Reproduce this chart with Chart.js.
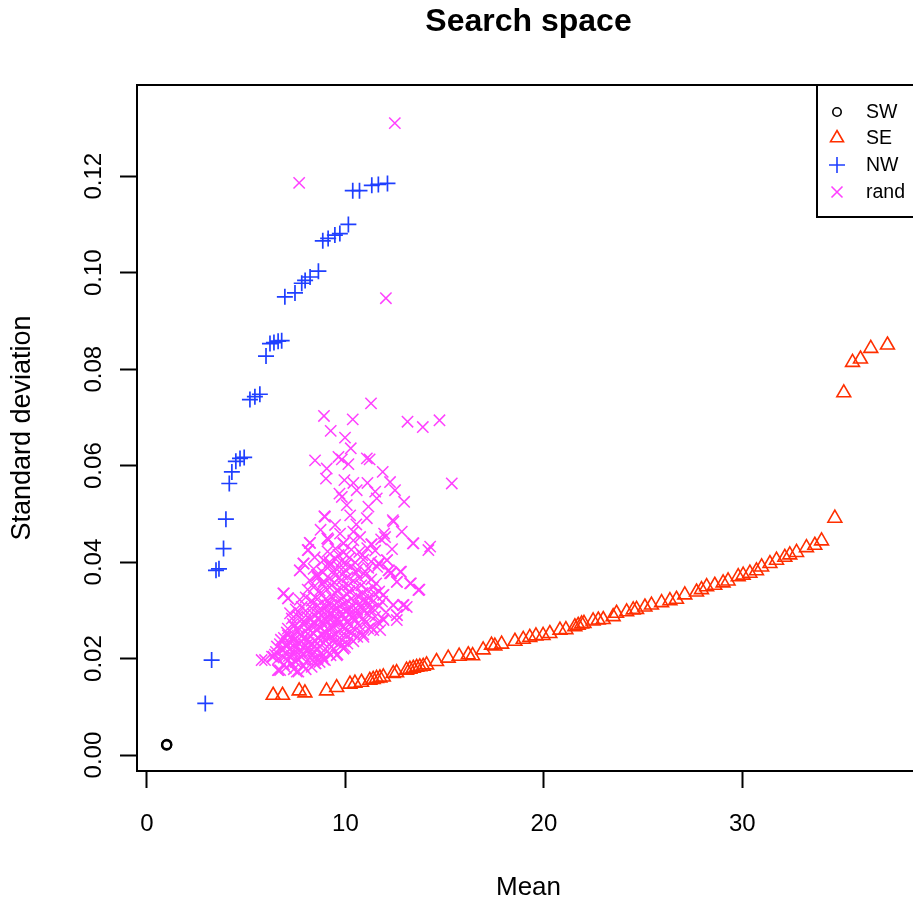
<!DOCTYPE html>
<html><head><meta charset="utf-8">
<script src="https://cdn.jsdelivr.net/npm/chart.js@4/dist/chart.umd.min.js"></script>
<style>
html,body{margin:0;padding:0;overflow:hidden;background:#fff;width:913px;height:901px}
#wrap{position:absolute;left:0;top:0;width:940px;height:901px}
</style>
</head><body><div id="wrap"><canvas id="c"></canvas></div>
<script>
const chartTitle = 'Search space';
const xTitle = 'Mean';
const yTitle = 'Standard deviation';
const seriesNames = ['SW', 'SE', 'NW', 'rand'];
const xTicks = [0, 10, 20, 30];
const yTicks = [0, 0.02, 0.04, 0.06, 0.08, 0.10, 0.12];

const swPoints = [[0.99,0.0021],[1.00,0.0022]];

const sePoints = [
[6.36,0.0124],[6.83,0.0124],[7.67,0.0133],[7.96,0.0129],[9.05,0.0133],[9.56,0.0140],[10.23,0.0147],[10.48,0.0149],
[10.81,0.0151],[11.23,0.0155],[11.40,0.0157],[11.57,0.0159],[11.74,0.0160],[11.91,0.0162],[12.41,0.0169],[12.58,0.0171],
[13.08,0.0176],[13.25,0.0178],[13.42,0.0180],[13.59,0.0182],[13.75,0.0183],[13.92,0.0184],[14.09,0.0187],[14.59,0.0194],
[15.18,0.0201],[15.73,0.0205],[16.19,0.0208],[16.41,0.0206],[16.94,0.0218],[17.36,0.0228],[17.53,0.0226],[17.87,0.0230],
[18.54,0.0236],[18.96,0.0240],[19.29,0.0244],[19.60,0.0247],[19.96,0.0248],[20.30,0.0252],[20.81,0.0259],[21.11,0.0260],
[21.56,0.0266],[21.73,0.0269],[21.90,0.0272],[22.02,0.0273],[22.48,0.0278],[22.74,0.0280],[22.99,0.0281],[23.49,0.0287],
[23.66,0.0294],[24.17,0.0297],[24.50,0.0301],[24.67,0.0302],[25.09,0.0307],[25.42,0.0311],[25.93,0.0316],[26.35,0.0320],
[26.68,0.0323],[27.10,0.0332],[27.69,0.0338],[27.94,0.0343],[28.20,0.0349],[28.61,0.0352],[29.03,0.0357],[29.28,0.0361],
[29.79,0.0370],[30.04,0.0373],[30.38,0.0377],[30.71,0.0382],[30.97,0.0390],[31.39,0.0397],[31.72,0.0404],[32.14,0.0410],
[32.39,0.0415],[32.73,0.0420],[33.23,0.0430],[33.65,0.0435],[33.99,0.0444],[34.66,0.0491],[35.11,0.0751],[35.55,0.0814],
[35.95,0.0821],[36.47,0.0843],[37.31,0.0850]
];

const nwPoints = [
[2.94,0.0107],[3.26,0.0197],[3.48,0.0383],[3.63,0.0386],[3.86,0.0428],[3.98,0.0489],[4.15,0.0563],[4.28,0.0587],
[4.48,0.0609],[4.69,0.0615],[4.90,0.0617],[5.19,0.0737],[5.44,0.0743],[5.69,0.0748],[6.00,0.0827],[6.20,0.0853],
[6.40,0.0855],[6.61,0.0858],[6.79,0.0859],[6.95,0.0950],[7.46,0.0958],[7.80,0.0978],[7.97,0.0984],[8.22,0.0991],
[8.64,0.1003],[8.86,0.1066],[9.13,0.1071],[9.47,0.1078],[9.72,0.1081],[10.15,0.1100],[10.37,0.1170],[10.71,0.1170],
[11.33,0.1181],[11.66,0.1183],[12.12,0.1185]
];

const randPoints = [
[12.49,0.1310],[7.67,0.1186],[12.04,0.0947],
[11.29,0.0729],[8.92,0.0703],[10.37,0.0696],[13.13,0.0691],[13.90,0.0680],[14.74,0.0694],[9.26,0.0672],[9.98,0.0658],
[10.27,0.0636],[8.47,0.0611],[9.65,0.0618],[9.82,0.0613],[10.15,0.0603],[11.08,0.0615],[11.22,0.0613],[9.06,0.0594],
[9.02,0.0573],[11.88,0.0587],[9.95,0.0570],[10.40,0.0564],[11.11,0.0564],[12.25,0.0566],[15.36,0.0563],[9.70,0.0542],
[9.82,0.0535],[10.57,0.0549],[11.50,0.0546],[11.58,0.0532],[12.50,0.0549],[12.96,0.0525],[10.07,0.0518],[10.24,0.0497],
[11.16,0.0515],[8.97,0.0494],[9.48,0.0477],[11.08,0.0491],[12.39,0.0487],[12.84,0.0463],[12.00,0.0452],[9.73,0.0459],
[10.40,0.0463],[10.74,0.0452],[8.22,0.0440],[9.09,0.0449],[13.43,0.0439],[14.27,0.0432],[9.90,0.0439],[11.33,0.0437],
[8.94,0.0495],[12.42,0.0484],[12.09,0.0404],[11.66,0.0397],[8.89,0.0404],[7.88,0.0397],[7.71,0.0383],[8.56,0.0373],
[8.13,0.0425],[9.14,0.0446],[14.18,0.0425],[6.87,0.0335],[7.12,0.0325],[5.95,0.0197],[6.37,0.0204],[7.55,0.0173],
[6.62,0.0176],[6.87,0.0218],[12.42,0.0311],[12.59,0.0290],[12.93,0.0311],[13.26,0.0356],[13.73,0.0343],[12.76,0.0380],
[12.17,0.0383],[9.98,0.0224],[9.56,0.0207],[8.97,0.0197],[8.47,0.0190],[11.92,0.0332],[11.92,0.0280],[11.41,0.0259],
[10.91,0.0245],[6.71,0.0176],[7.63,0.0173],[9.90,0.0221],[11.75,0.0259],[12.59,0.0280],[13.09,0.0307],[13.68,0.0342],
[12.59,0.0359],[12.25,0.0377],[7.21,0.0294],[7.04,0.0231],[5.78,0.0197],
[6.6,0.0176],[7.0,0.0181],[7.4,0.0178],[7.9,0.0185],[8.3,0.0183],[8.5,0.0190],[6.9,0.0188],[7.3,0.0190],[8.0,0.0178],
[6.3,0.0204],[6.6,0.0199],[6.9,0.0202],[7.1,0.0196],[7.3,0.0206],[7.6,0.0200],[7.8,0.0203],[8.1,0.0197],[8.3,0.0206],
[8.6,0.0201],[8.9,0.0198],[7.5,0.0193],[8.7,0.0193],
[6.5,0.0214],[6.8,0.0218],[7.0,0.0211],[7.2,0.0220],[7.4,0.0213],[7.7,0.0217],[7.9,0.0210],[8.1,0.0221],[8.4,0.0215],
[8.6,0.0219],[8.8,0.0212],[9.1,0.0216],[9.4,0.0220],[9.6,0.0209],[9.9,0.0221],[7.5,0.0222],[8.2,0.0213],
[6.7,0.0230],[7.0,0.0226],[7.2,0.0233],[7.5,0.0228],[7.8,0.0235],[8.0,0.0227],[8.3,0.0231],[8.5,0.0236],[8.7,0.0225],
[8.9,0.0232],[9.2,0.0229],[9.5,0.0234],[9.8,0.0227],[10.1,0.0231],[10.4,0.0236],[7.4,0.0238],[8.1,0.0239],[9.0,0.0238],
[6.9,0.0243],[7.1,0.0248],[7.4,0.0245],[7.7,0.0250],[7.9,0.0242],[8.2,0.0247],[8.4,0.0252],[8.6,0.0244],[8.8,0.0249],
[9.0,0.0254],[9.3,0.0246],[9.5,0.0251],[9.7,0.0243],[10.0,0.0248],[10.3,0.0253],[10.6,0.0245],[10.9,0.0250],[8.0,0.0256],
[9.2,0.0258],[10.1,0.0259],[7.6,0.0257],
[7.1,0.0262],[7.4,0.0267],[7.6,0.0264],[7.9,0.0270],[8.1,0.0263],[8.3,0.0268],[8.5,0.0273],[8.7,0.0265],[8.9,0.0270],
[9.1,0.0275],[9.3,0.0264],[9.5,0.0269],[9.7,0.0274],[9.9,0.0266],[10.2,0.0271],[10.4,0.0263],[10.7,0.0268],[11.0,0.0274],
[11.3,0.0266],[8.8,0.0278],[9.6,0.0279],[10.5,0.0279],
[7.3,0.0283],[7.6,0.0288],[7.8,0.0281],[8.1,0.0286],[8.4,0.0291],[8.6,0.0284],[8.8,0.0289],[9.0,0.0282],[9.2,0.0293],
[9.4,0.0287],[9.6,0.0283],[9.8,0.0290],[10.0,0.0285],[10.2,0.0292],[10.4,0.0286],[10.6,0.0293],[10.9,0.0284],[11.2,0.0290],
[11.5,0.0287],[11.9,0.0282],[12.6,0.0290],
[7.5,0.0302],[7.8,0.0307],[8.0,0.0299],[8.3,0.0304],[8.6,0.0310],[8.8,0.0301],[9.0,0.0306],[9.2,0.0312],[9.4,0.0300],
[9.6,0.0305],[9.8,0.0311],[10.0,0.0298],[10.2,0.0303],[10.4,0.0309],[10.6,0.0301],[10.8,0.0307],[11.1,0.0313],[11.4,0.0304],
[11.7,0.0309],[12.4,0.0311],[12.9,0.0311],[9.1,0.0296],[10.3,0.0295],
[7.7,0.0322],[8.0,0.0327],[8.3,0.0320],[8.5,0.0326],[8.8,0.0332],[9.0,0.0323],[9.3,0.0329],[9.5,0.0335],[9.7,0.0321],
[9.9,0.0327],[10.1,0.0333],[10.3,0.0324],[10.6,0.0330],[10.9,0.0322],[11.2,0.0328],[11.5,0.0334],[11.9,0.0332],[9.2,0.0317],
[10.0,0.0316],
[6.9,0.0335],[7.1,0.0325],[8.1,0.0343],[8.4,0.0348],[8.7,0.0341],[9.0,0.0346],[9.3,0.0352],[9.6,0.0343],[9.9,0.0349],
[10.2,0.0340],[10.5,0.0346],[10.8,0.0352],[11.1,0.0342],[11.4,0.0348],[11.7,0.0339],[13.3,0.0356],[13.7,0.0343],
[8.2,0.0362],[8.6,0.0368],[8.9,0.0360],[9.2,0.0366],[9.5,0.0372],[9.8,0.0363],[10.1,0.0369],[10.4,0.0361],[10.7,0.0367],
[11.0,0.0373],[11.3,0.0364],[12.6,0.0359],[12.3,0.0377],[8.6,0.0373],
[7.7,0.0383],[8.4,0.0386],[8.8,0.0381],[9.1,0.0388],[9.4,0.0382],[9.7,0.0389],[10.0,0.0384],[10.3,0.0391],[10.6,0.0385],
[11.0,0.0380],[11.6,0.0390],[12.2,0.0383],[12.8,0.0380],
[7.9,0.0397],[8.9,0.0404],[9.2,0.0400],[9.5,0.0407],[9.8,0.0402],[10.2,0.0409],[10.5,0.0399],[10.9,0.0405],[11.3,0.0401],
[11.7,0.0397],[12.1,0.0404],
[8.1,0.0425],[9.1,0.0422],[9.5,0.0428],[9.9,0.0420],[10.3,0.0426],[10.7,0.0421],[11.1,0.0429],[11.5,0.0424],
[8.2,0.0440],[9.1,0.0449],[9.9,0.0439],[10.4,0.0445],[11.3,0.0437],[11.8,0.0447],[13.4,0.0439],
[7.25,0.0245],[7.55,0.0236],[7.85,0.0224],[8.15,0.0232],[8.45,0.0226],[8.75,0.0238],[9.05,0.0244],[9.35,0.0237],
[9.65,0.0255],[9.95,0.0261],[8.25,0.0258],[8.55,0.0262],[8.95,0.0257],[7.95,0.0276],[8.25,0.0280],[8.65,0.0296],
[9.15,0.0285],[9.45,0.0277],[9.75,0.0296],[10.05,0.0276],[10.35,0.0284],[10.65,0.0290],[10.95,0.0298],[11.25,0.0302],
[10.45,0.0318],[10.75,0.0314],[11.05,0.0320],[11.35,0.0317],[9.55,0.0315],[8.95,0.0313],[8.35,0.0314],[7.65,0.0296],
[7.35,0.0272],[7.05,0.0254],[6.75,0.0239],[6.55,0.0225],[6.45,0.0208],[7.15,0.0205],[7.65,0.0209],[8.35,0.0198],
[8.85,0.0205],[9.25,0.0207],[9.75,0.0233],[10.25,0.0242],[10.75,0.0256],[11.15,0.0262],[11.65,0.0275],[12.05,0.0296],
[11.85,0.0318],[10.15,0.0352],[9.45,0.0358],[8.85,0.0354],[10.85,0.0336],[11.55,0.0356],[9.85,0.0374],[10.55,0.0378],
[9.25,0.0394],[10.05,0.0396],[11.15,0.0388],[8.45,0.0410],[9.65,0.0415],[10.85,0.0414],[12.35,0.0427],[11.95,0.0459],
[8.75,0.0467],[10.55,0.0478]
];

const FONT = '"Liberation Sans", Arial, Helvetica, sans-serif';
const colSW = '#000000', colSE = '#ff2f00', colNW = '#1f3fff', colRand = '#ff40ff';

const toXY = arr => arr.map(p => ({x: p[0], y: p[1]}));

const frameAndLegend = {
  id: 'frameAndLegend',
  afterDraw(chart) {
    const {ctx, chartArea: a} = chart;
    ctx.save();
    ctx.strokeStyle = '#000';
    ctx.lineWidth = 2;
    ctx.strokeRect(a.left, a.top, a.right - a.left, a.bottom - a.top);
    const lx = a.right - 103, ly = a.top;
    ctx.fillStyle = '#fff';
    ctx.fillRect(lx, ly, 200, 132);
    ctx.strokeRect(lx, ly, 200, 132);
    const sx = lx + 20, tx = lx + 49;
    const rows = [ly + 27, ly + 53, ly + 80, ly + 107];
    ctx.lineWidth = 1.6;
    ctx.strokeStyle = colSW;
    ctx.beginPath(); ctx.arc(sx, rows[0], 4.2, 0, Math.PI * 2); ctx.stroke();
    ctx.strokeStyle = colSE;
    const r = 7.5;
    ctx.beginPath();
    ctx.moveTo(sx, rows[1] - r);
    ctx.lineTo(sx + r * 0.866, rows[1] + r / 2);
    ctx.lineTo(sx - r * 0.866, rows[1] + r / 2);
    ctx.closePath(); ctx.stroke();
    ctx.strokeStyle = colNW;
    ctx.beginPath();
    ctx.moveTo(sx - 8, rows[2]); ctx.lineTo(sx + 8, rows[2]);
    ctx.moveTo(sx, rows[2] - 8); ctx.lineTo(sx, rows[2] + 8);
    ctx.stroke();
    ctx.strokeStyle = colRand;
    ctx.beginPath();
    ctx.moveTo(sx - 5.5, rows[3] - 5.5); ctx.lineTo(sx + 5.5, rows[3] + 5.5);
    ctx.moveTo(sx + 5.5, rows[3] - 5.5); ctx.lineTo(sx - 5.5, rows[3] + 5.5);
    ctx.stroke();
    ctx.fillStyle = '#000';
    ctx.font = '19.5px ' + FONT;
    ctx.textAlign = 'left';
    ctx.textBaseline = 'middle';
    seriesNames.forEach((n, i) => ctx.fillText(n, tx, rows[i] + 1));
    ctx.restore();
  }
};

new Chart(document.getElementById('c'), {
  type: 'scatter',
  data: {
    datasets: [
      {label: seriesNames[0], data: toXY(swPoints), pointStyle: 'circle', radius: 4.6, borderColor: colSW, backgroundColor: 'rgba(0,0,0,0)', borderWidth: 2.2, order: 3},
      {label: seriesNames[1], data: toXY(sePoints), pointStyle: 'triangle', radius: 8, borderColor: colSE, backgroundColor: 'rgba(0,0,0,0)', borderWidth: 1.6, order: 2},
      {label: seriesNames[2], data: toXY(nwPoints), pointStyle: 'cross', radius: 8, borderColor: colNW, backgroundColor: 'rgba(0,0,0,0)', borderWidth: 1.7, order: 1},
      {label: seriesNames[3], data: toXY(randPoints), pointStyle: 'crossRot', radius: 8, borderColor: colRand, backgroundColor: 'rgba(0,0,0,0)', borderWidth: 1.5, order: 0}
    ]
  },
  options: {
    responsive: true,
    maintainAspectRatio: false,
    animation: false,
    devicePixelRatio: 1,
    events: [],
    layout: {padding: {left: 0, right: 20, top: 0, bottom: 0}},
    plugins: {
      legend: {display: false},
      tooltip: {enabled: false},
      title: {
        display: true, text: chartTitle, fullSize: false, color: '#000',
        font: {family: FONT, size: 32, weight: 'bold', lineHeight: 1.2},
        padding: {top: 3, bottom: 43.6}
      }
    },
    scales: {
      x: {
        type: 'linear', min: -0.5, max: 38.95,
        afterFit(s) { s.height = 130; },
        afterBuildTicks(s) { s.ticks = xTicks.map(v => ({value: v})); },
        grid: {display: true, drawOnChartArea: false, drawTicks: true, tickLength: 17, tickWidth: 2, tickColor: '#000'},
        border: {display: true, color: '#000', width: 2},
        ticks: {color: '#000', font: {family: FONT, size: 24}, padding: 22, maxRotation: 0, minRotation: 0, callback: v => String(v)},
        title: {display: true, text: xTitle, color: '#000', font: {family: FONT, size: 26, lineHeight: 1}, padding: {top: 0, bottom: 0}}
      },
      y: {
        type: 'linear', min: -0.0033, max: 0.1389,
        afterFit(s) { s.width = 137; },
        afterBuildTicks(s) { s.ticks = yTicks.map(v => ({value: v})); },
        grid: {display: true, drawOnChartArea: false, drawTicks: true, tickLength: 17, tickWidth: 2, tickColor: '#000'},
        border: {display: true, color: '#000', width: 2},
        ticks: {color: '#000', font: {family: FONT, size: 24}, padding: 2, minRotation: 90, maxRotation: 90, crossAlign: 'center', callback: v => v.toFixed(2)},
        title: {display: true, text: yTitle, color: '#000', font: {family: FONT, size: 27, lineHeight: 1.2}, padding: {top: 6, bottom: 0}}
      }
    }
  },
  plugins: [frameAndLegend]
});
</script>
</body></html>
